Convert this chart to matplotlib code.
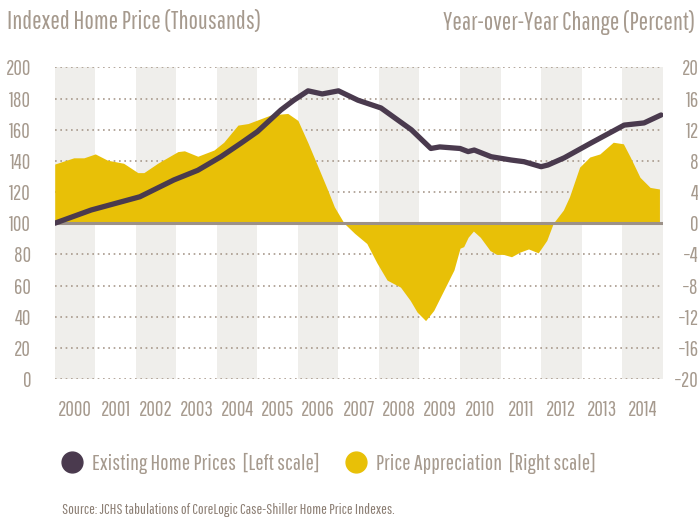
import matplotlib
matplotlib.use('Agg')
import matplotlib.pyplot as plt
from matplotlib.lines import Line2D

plt.rcParams['font.family'] = ['Pathway Gothic One', 'Roboto Condensed', 'DejaVu Sans']

# Existing home prices (left scale, thousands)
price_x = [2000.0, 2000.9, 2002.1, 2002.94, 2003.53, 2004.1, 2004.6, 2005.0, 2005.58,
           2005.9, 2006.25, 2006.6, 2007.0, 2007.48, 2008.05, 2008.8, 2009.28, 2009.5,
           2010.0, 2010.2, 2010.35, 2010.77, 2011.26, 2011.58, 2012.0, 2012.17, 2012.57,
           2013.23, 2014.05, 2014.54, 2014.96]
price_y = [100, 108.5, 117, 127.8, 134, 142.7, 151.5, 158.8, 172.7,
           179, 185, 183, 185, 179, 174, 160, 148, 149,
           148, 146, 147, 142.7, 140.6, 139.5, 136.3, 137.4, 142,
           151.5, 163, 164.4, 169.5]

# Year-over-year change (right scale, percent)
chg_x = [2000.0, 2000.47, 2000.72, 2001.0, 2001.3, 2001.7, 2002.05, 2002.2, 2002.54,
         2003.04, 2003.2, 2003.53, 2003.93, 2004.17, 2004.52, 2004.77, 2005.33, 2005.75,
         2006.0, 2006.25, 2006.5, 2006.74, 2006.9, 2007.14, 2007.4, 2007.7, 2007.95,
         2008.2, 2008.53, 2008.77, 2008.94, 2009.15, 2009.35, 2009.6, 2009.85, 2010.0,
         2010.09, 2010.2, 2010.33, 2010.5, 2010.74, 2010.9, 2011.07, 2011.27, 2011.48,
         2011.69, 2011.93, 2012.14, 2012.3, 2012.55, 2012.7, 2012.95, 2013.2, 2013.45,
         2013.78, 2014.03, 2014.2, 2014.44, 2014.69, 2014.92]
chg_y = [7.6, 8.4, 8.4, 8.9, 8.1, 7.7, 6.5, 6.5, 7.7,
         9.2, 9.3, 8.6, 9.4, 10.4, 12.6, 12.8, 13.9, 14.1,
         13.2, 10.3, 7.2, 4.2, 2.1, 0, -1.3, -2.6, -5.1,
         -7.3, -8.2, -9.9, -11.4, -12.5, -11.2, -8.6, -6.0, -3.2,
         -3.0, -1.8, -1.0, -1.8, -3.5, -4.0, -4.0, -4.3, -3.7,
         -3.3, -3.8, -2.2, 0, 1.7, 3.4, 7.2, 8.5, 8.9,
         10.4, 10.2, 8.5, 5.9, 4.6, 4.4]

years = list(range(2000, 2015))
left_ticks = list(range(0, 201, 20))
right_ticks = list(range(-20, 21, 4))

txt = '#A69A8E'
purple = '#4A3A4E'
yellow = '#E8C007'
band = '#EFEEEB'

fig = plt.figure(figsize=(6.98, 5.19), dpi=100)
ax = fig.add_axes([0.0784, 0.2697, 0.871, 0.6003])
ax2 = ax.twinx()
ax.set_zorder(ax2.get_zorder() + 1)
ax.patch.set_visible(False)

# alternating year bands
for yr in years:
    if (yr - 2000) % 2 == 0:
        ax2.axvspan(yr, yr + 1, color=band, lw=0, zorder=0)

for t in left_ticks:
    if t != 100:
        ax2.axhline((t - 100) / 5, color='#A8998C', lw=1.2, ls=(0, (1, 2.2)), zorder=1)

ax2.fill_between(chg_x, chg_y, 0, color=yellow, lw=0, zorder=2)
ax2.axhline(0, color='#9C9188', lw=2.2, zorder=3)
ax.plot(price_x, price_y, color=purple, lw=3.8, solid_capstyle='round',
        solid_joinstyle='round', zorder=4)

ax.set_xlim(2000, 2015)
ax.set_ylim(0, 200)
ax2.set_ylim(-20, 20)
ax.set_yticks(left_ticks)
ax2.set_yticks(right_ticks)
ax.set_xticks([y + 0.5 for y in years])
ax.set_xticklabels([str(y) for y in years])

for a in (ax, ax2):
    for s in a.spines.values():
        s.set_visible(False)
    a.tick_params(length=0, colors=txt, labelsize=15)
ax.tick_params(axis='x', pad=15)
ax.tick_params(axis='y', pad=17)
ax2.tick_params(axis='y', pad=26)
for lab in ax2.get_yticklabels():
    lab.set_horizontalalignment('right')

fig.text(0.01, 0.957, 'Indexed Home Price (Thousands)', color=txt, fontsize=18,
         ha='left', va='center')
fig.text(0.996, 0.957, 'Year-over-Year Change (Percent)', color=txt, fontsize=18,
         ha='right', va='center')

handles = [Line2D([], [], ls='none', marker='o', ms=15, color=purple),
           Line2D([], [], ls='none', marker='o', ms=15, color=yellow)]
labels = ['Existing Home Prices  [Left scale]', 'Price Appreciation  [Right scale]']
fig.legend(handles, labels, loc='center left', bbox_to_anchor=(0.0874, 0.107), ncol=2,
           frameon=False, fontsize=16, labelcolor=txt, handletextpad=0.4,
           columnspacing=1.13, handlelength=1.0, borderpad=0, borderaxespad=0)

fig.text(0.089, 0.017, 'Source: JCHS tabulations of CoreLogic Case-Shiller Home Price Indexes.',
         color='#8C7F74', fontsize=11, ha='left', va='center')

fig.savefig('out.png', dpi=100)
